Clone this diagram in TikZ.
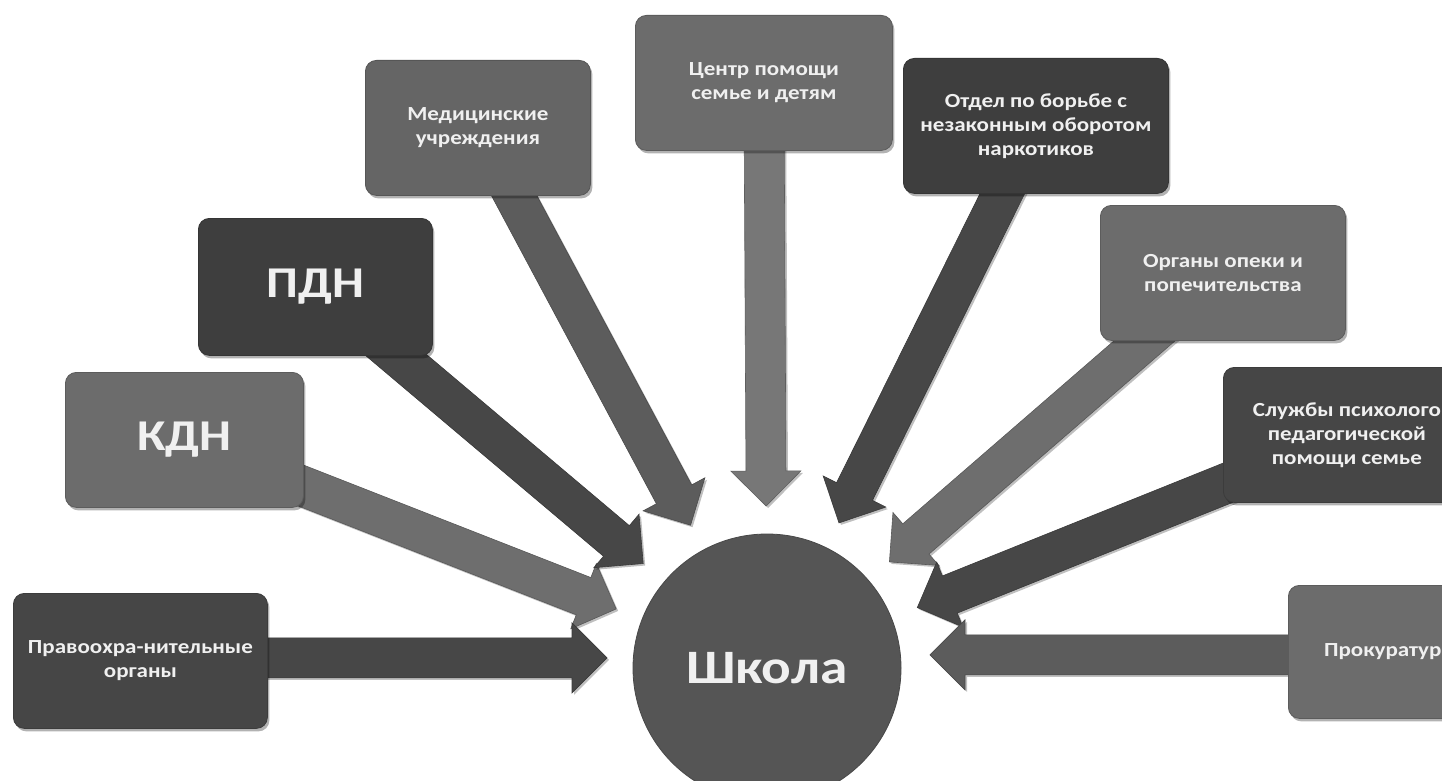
\documentclass[tikz,border=0pt]{standalone}
\usepackage{fontspec}
\setmainfont{Carlito}
\newfontfamily\boxfont[FakeStretch=1.15]{Carlito}
\usetikzlibrary{calc,shadows}
\pgfdeclarelayer{paper}
\pgfdeclarelayer{arrows}
\pgfsetlayers{paper,arrows,main}
\definecolor{bdark}{HTML}{464646}
\definecolor{bdarker}{HTML}{3E3E3E}
\definecolor{bmid}{HTML}{6C6C6C}
\definecolor{bmed}{HTML}{656565}
\definecolor{circ}{HTML}{555555}
\definecolor{txt}{HTML}{F0F0F0}
\definecolor{adark}{HTML}{474747}
\definecolor{amid}{HTML}{6E6E6E}
\definecolor{amed}{HTML}{5C5C5C}
\definecolor{alight}{HTML}{777777}
\tikzset{
  box/.style={fill=#1, draw=#1!85!black, line width=0.8pt, rounded corners=11pt,
    drop shadow={shadow xshift=2pt, shadow yshift=-3pt, fill=black, opacity=0.3},
    text=txt, align=center, anchor=north west, inner sep=0pt,
    font=\boxfont\bfseries\fontsize{20}{24}\selectfont},
  bigtext/.style={font=\boxfont\bfseries\fontsize{44}{50}\selectfont},
  arrowfill/.style={fill=#1, draw=#1!80!black, line width=0.6pt, line join=miter,
    drop shadow={shadow xshift=2pt, shadow yshift=-2pt, fill=black, opacity=0.25}},
  hub/.style={circle, fill=circ, draw=circ!85!black, line width=0.8pt, text=txt,
    minimum size=268pt, inner sep=0pt,
    font=\boxfont\bfseries\fontsize{48}{54}\selectfont}
}
% #1 source node, #2 tip coordinate, #3 colour
\newcommand\blockarrow[3]{%
  \coordinate (hb) at ($(#2)!35pt!(#1)$);
  \path[arrowfill=#3]
    ($(hb)!20pt!90:(#1)$) -- ($(#1)!20pt!-90:(hb)$)
    -- ($(#1)!20pt!90:(hb)$) -- ($(hb)!20pt!-90:(#1)$)
    -- ($(hb)!35pt!-90:(#1)$) -- (#2)
    -- ($(hb)!35pt!90:(#1)$) -- cycle;
}
\begin{document}
\begin{tikzpicture}[x=1pt,y=-1pt]
\useasboundingbox (0,0) rectangle (1442,781);
\begin{pgfonlayer}{paper}
\fill[white] (0,0) rectangle (1442,781);
\end{pgfonlayer}
\clip (0,0) rectangle (1442,781);

\node[hub] (school) at (767,668) {Школа};

\node[box=bdark, minimum width=254pt, minimum height=135pt] (prav) at (13,593) {Правоохра-нительные\\органы};
\node[box=bmid, bigtext, minimum width=238pt, minimum height=135pt] (kdn) at (65,372) {КДН};
\node[box=bdarker, bigtext, minimum width=234pt, minimum height=137pt] (pdn) at (198,218) {ПДН};
\node[box=bmed, minimum width=225pt, minimum height=135pt] (med) at (365,60) {Медицинские\\учреждения};
\node[box=bmid, minimum width=257pt, minimum height=135pt] (cent) at (635,15) {Центр помощи\\семье и детям};
\node[box=bdarker, minimum width=265pt, minimum height=135pt] (otd) at (903,58) {Отдел по борьбе с\\незаконным оборотом\\наркотиков};
\node[box=bmid, minimum width=245pt, minimum height=135pt] (opek) at (1100,205) {Органы опеки и\\попечительства};
\node[box=bdark, minimum width=247pt, minimum height=135pt] (sluz) at (1223,367) {Службы психолого\\педагогической\\помощи семье};
\node[box=bmid, minimum width=200pt, minimum height=133pt] (prok) at (1288,585) {Прокуратура};

\begin{pgfonlayer}{arrows}
\foreach \n/\c in {kdn/amid, pdn/adark, med/amed, cent/alight,
                   otd/adark, opek/amid, sluz/adark}{
  \coordinate (tip-\n) at ($(school.center)!162pt!(\n.center)$);
  \blockarrow{\n.center}{tip-\n}{\c}
}
\coordinate (tip-prav) at ($(school.center |- prav.center)+(-160,-3)$);
\coordinate (src-prav) at ($(prav.center)+(0,-3)$);
\blockarrow{src-prav}{tip-prav}{adark}
\coordinate (tip-prok) at ($(school.center |- prok.center)+(163,3)$);
\coordinate (src-prok) at ($(prok.center)+(0,3)$);
\blockarrow{src-prok}{tip-prok}{amed}
\end{pgfonlayer}
\end{tikzpicture}
\end{document}
